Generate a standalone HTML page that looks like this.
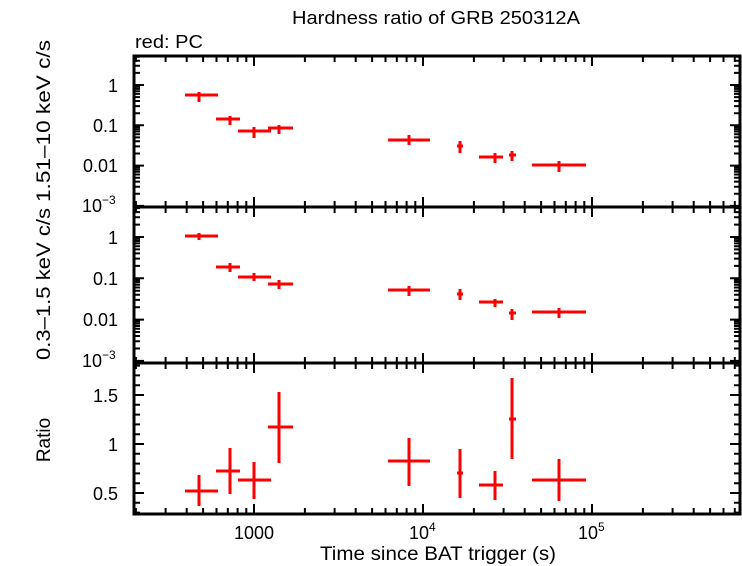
<!DOCTYPE html>
<html><head><meta charset="utf-8"><style>
html,body{margin:0;padding:0;background:#fff;}
svg{display:block;font-family:"Liberation Sans",sans-serif;}
</style></head><body>
<svg width="742" height="566" viewBox="0 0 742 566" xmlns="http://www.w3.org/2000/svg">
<defs>
<clipPath id="c"><rect x="134" y="56" width="606" height="458"/></clipPath>
<path id="xd" d="M50.9 0v6M80.6 0v6M101.7 0v6M118.1 0v6M131.5 0v6M142.8 0v6M152.6 0v6M161.3 0v6M169 0v10" stroke="#000" stroke-width="2" fill="none"/>
<path id="ya" d="M0 -12.1h6M0 -19.2h6M0 -24.3h6M0 -28.2h6M0 -31.4h6M0 -34.1h6M0 -36.4h6M0 -38.5h6M0 -40.3h10" stroke="#000" stroke-width="2" fill="none"/>
<path id="yb" d="M0 -12.4h6M0 -19.7h6M0 -24.9h6M0 -28.9h6M0 -32.1h6M0 -34.9h6M0 -37.3h6M0 -39.4h6M0 -41.3h10" stroke="#000" stroke-width="2" fill="none"/>
<g id="xrow">
<use href="#xd" x="85"/><use href="#xd" x="254"/><use href="#xd" x="423"/><use href="#xd" x="592"/>
</g>
<g id="ytop">
<use href="#ya" y="125.3"/><use href="#ya" y="165.6"/><use href="#ya" y="205.9"/><use href="#ya" y="85"/><use href="#ya" y="246.2"/>
</g>
<g id="ymid">
<use href="#yb" y="278.3"/><use href="#yb" y="319.6"/><use href="#yb" y="360.9"/><use href="#yb" y="237"/><use href="#yb" y="402.2"/>
</g>
<path id="ybot" d="M0 512.6h6M0 502.8h6M0 493h10M0 483.2h6M0 473.4h6M0 463.6h6M0 453.8h6M0 444h10M0 434.2h6M0 424.4h6M0 414.6h6M0 404.8h6M0 395h10M0 385.2h6M0 375.4h6M0 365.6h6" stroke="#000" stroke-width="2" fill="none"/>
</defs>

<g clip-path="url(#c)">
<use href="#xrow" transform="translate(0,56)"/>
<use href="#xrow" transform="translate(0,207) scale(1,-1)"/>
<use href="#xrow" transform="translate(0,207)"/>
<use href="#xrow" transform="translate(0,363) scale(1,-1)"/>
<use href="#xrow" transform="translate(0,363)"/>
<use href="#xrow" transform="translate(0,514) scale(1,-1)"/>
</g>
<clipPath id="ct"><rect x="134" y="56" width="606" height="151"/></clipPath>
<clipPath id="cm"><rect x="134" y="207" width="606" height="156"/></clipPath>
<g clip-path="url(#ct)"><use href="#ytop" transform="translate(134,0)"/><use href="#ytop" transform="translate(740,0) scale(-1,1)"/></g>
<g clip-path="url(#cm)"><use href="#ymid" transform="translate(134,0)"/><use href="#ymid" transform="translate(740,0) scale(-1,1)"/></g>
<use href="#ybot" transform="translate(134,0)"/>
<use href="#ybot" transform="translate(740,0) scale(-1,1)"/>

<rect x="134" y="56" width="606" height="458" fill="none" stroke="#000" stroke-width="3"/>
<line x1="134" y1="207" x2="740" y2="207" stroke="#000" stroke-width="3"/>
<line x1="134" y1="363" x2="740" y2="363" stroke="#000" stroke-width="3"/>

<g stroke="#f00" stroke-width="3" fill="none">
<path d="M185 95H218M199 92V102"/>
<path d="M216 119H240M230 116V125"/>
<path d="M238 131H271M254 127V138"/>
<path d="M268 128H293M279 125V134"/>
<path d="M388 140H430M409 135V145"/>
<path d="M457 146H463M460 141V153"/>
<path d="M479 157H503M495 153V163"/>
<path d="M509 155H516M512 151V161"/>
<path d="M532 165H586M559 161V172"/>
<path d="M185 236H218M199 233V240"/>
<path d="M216 267H240M230 263V272"/>
<path d="M238 277H271M254 273V281"/>
<path d="M268 284H293M279 280V289"/>
<path d="M388 290H430M409 286V296"/>
<path d="M457 294H463M460 289V300"/>
<path d="M479 302H503M495 299V307"/>
<path d="M509 313H516M512 309V320"/>
<path d="M532 312H586M559 308V318"/>
<path d="M185 491H218M199 475V506"/>
<path d="M216 471H240M230 448V494"/>
<path d="M238 480H271M254 462V499"/>
<path d="M268 427H293M279 392V463"/>
<path d="M388 461H430M409 438V486"/>
<path d="M457 473H463M460 449V498"/>
<path d="M479 485H503M495 471V500"/>
<path d="M509 419H516M512 378V459"/>
<path d="M532 480H586M559 459V501"/>
</g>

<g font-size="18" fill="#000">
<text x="436" y="24" text-anchor="middle" textLength="288" lengthAdjust="spacingAndGlyphs">Hardness ratio of GRB 250312A</text>
<text x="135" y="48" textLength="68" lengthAdjust="spacingAndGlyphs">red: PC</text>
<g text-anchor="end">
<text x="118" y="92">1</text>
<text x="118" y="132">0.1</text>
<text x="118" y="172">0.01</text>
<text x="118" y="244">1</text>
<text x="118" y="285">0.1</text>
<text x="118" y="326">0.01</text>
<text x="118" y="402">1.5</text>
<text x="118" y="451">1</text>
<text x="118" y="500">0.5</text>
</g>
<text x="82" y="212">10<tspan font-size="12" dy="-8">−3</tspan></text>
<text x="82" y="367">10<tspan font-size="12" dy="-8">−3</tspan></text>
<text x="254" y="539" text-anchor="middle">1000</text>
<text x="409" y="539">10<tspan font-size="12" dy="-8">4</tspan></text>
<text x="578" y="539">10<tspan font-size="12" dy="-8">5</tspan></text>
<text x="438" y="560" text-anchor="middle" font-size="19" textLength="236" lengthAdjust="spacingAndGlyphs">Time since BAT trigger (s)</text>
<text transform="translate(50,121) rotate(-90)" text-anchor="middle" font-size="19" textLength="162" lengthAdjust="spacingAndGlyphs">1.51–10 keV c/s</text>
<text transform="translate(50,284) rotate(-90)" text-anchor="middle" font-size="19" textLength="152" lengthAdjust="spacingAndGlyphs">0.3–1.5 keV c/s</text>
<text transform="translate(50,440) rotate(-90)" text-anchor="middle" font-size="19">Ratio</text>
</g>
</svg>
</body></html>
